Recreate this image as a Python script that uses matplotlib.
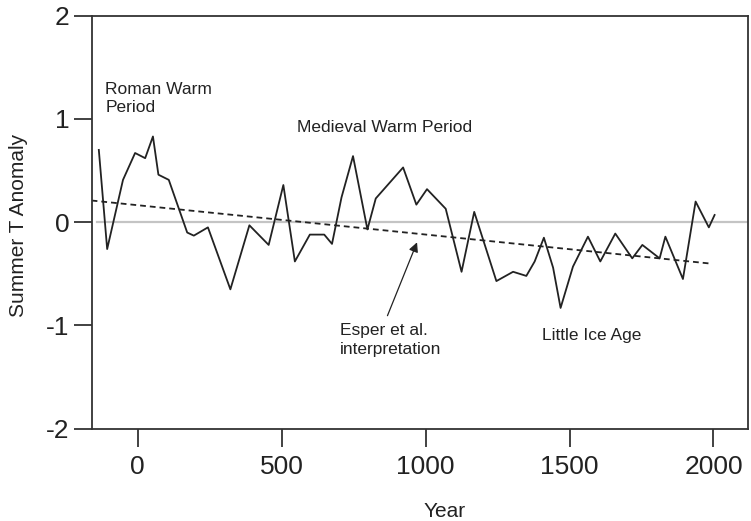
import matplotlib
matplotlib.use("Agg")
import matplotlib.pyplot as plt

plt.rcParams['font.family'] = ['Liberation Sans', 'DejaVu Sans']
plt.rcParams['axes.unicode_minus'] = False

# Reconstructed summer temperature anomaly series
years = [-135, -106, -51, -9, 26, 53, 72, 108, 172, 195, 244, 322, 388, 455,
         506, 546, 598, 648, 675, 708, 748, 798, 827, 922, 968, 1005, 1070,
         1125, 1169, 1246, 1304, 1350, 1379, 1411, 1443, 1469, 1512, 1564,
         1607, 1659, 1718, 1753, 1813, 1833, 1894, 1938, 1984, 2004]
anomaly = [0.70, -0.26, 0.41, 0.67, 0.62, 0.83, 0.46, 0.41, -0.10, -0.13,
           -0.05, -0.65, -0.03, -0.22, 0.36, -0.38, -0.12, -0.12, -0.21, 0.24,
           0.64, -0.07, 0.23, 0.53, 0.17, 0.32, 0.13, -0.48, 0.10, -0.57,
           -0.48, -0.52, -0.38, -0.15, -0.44, -0.83, -0.43, -0.14, -0.38,
           -0.11, -0.35, -0.22, -0.35, -0.14, -0.55, 0.20, -0.05, 0.07]

# Linear trend (Esper et al. interpretation)
trend_years = [-160, 1988]
trend_values = [0.21, -0.40]

x_ticks = [0, 500, 1000, 1500, 2000]
y_ticks = [-2, -1, 0, 1, 2]

fig = plt.figure(figsize=(7.51, 5.21), dpi=100)
ax = fig.add_axes([0.122, 0.177, 0.874, 0.793])

ax.plot([-140, 2120], [0, 0], color='#c4c4c4', lw=1.6, zorder=1)
ax.plot(years, anomaly, color='#222222', lw=1.3, zorder=3)
ax.plot(trend_years, trend_values, color='#222222', lw=1.3,
        linestyle=(0, (3.2, 2.2)), zorder=2)

ax.set_xlim(-160, 2120)
ax.set_ylim(-2, 2)
ax.set_xticks(x_ticks)
ax.set_yticks(y_ticks)
ax.tick_params(axis='both', direction='out', length=13, width=1.3,
               color='#333333', labelsize=19, labelcolor='#222222')
ax.tick_params(axis='x', pad=6)
ax.tick_params(axis='y', pad=3)
for s in ax.spines.values():
    s.set_color('#333333')
    s.set_linewidth(1.3)

ax.set_xlabel('Year', fontsize=15, color='#222222')
ax.xaxis.set_label_coords(0.538, -0.199)
ax.xaxis.label.set_va('center')
ax.set_ylabel('Summer T Anomaly', fontsize=15, color='#222222')
ax.yaxis.set_label_coords(-0.112, 0.4915)
ax.yaxis.label.set_va('center')

txt = dict(fontsize=12.5, color='#222222')
ax.text(-112, 1.36, 'Roman Warm\nPeriod', va='top', ha='left',
        linespacing=1.25, **txt)
ax.text(553, 0.915, 'Medieval Warm Period', va='center', ha='left', **txt)
ax.text(702, -1.14, 'Esper et al.\ninterpretation', va='center', ha='left',
        linespacing=1.4, **txt)
ax.text(1403, -1.10, 'Little Ice Age', va='center', ha='left', **txt)

ax.annotate('', xy=(974, -0.17), xytext=(864, -0.93),
            arrowprops=dict(arrowstyle='-|>', color='#222222', lw=0.9,
                            mutation_scale=14))

fig.savefig('out.png', dpi=100)
